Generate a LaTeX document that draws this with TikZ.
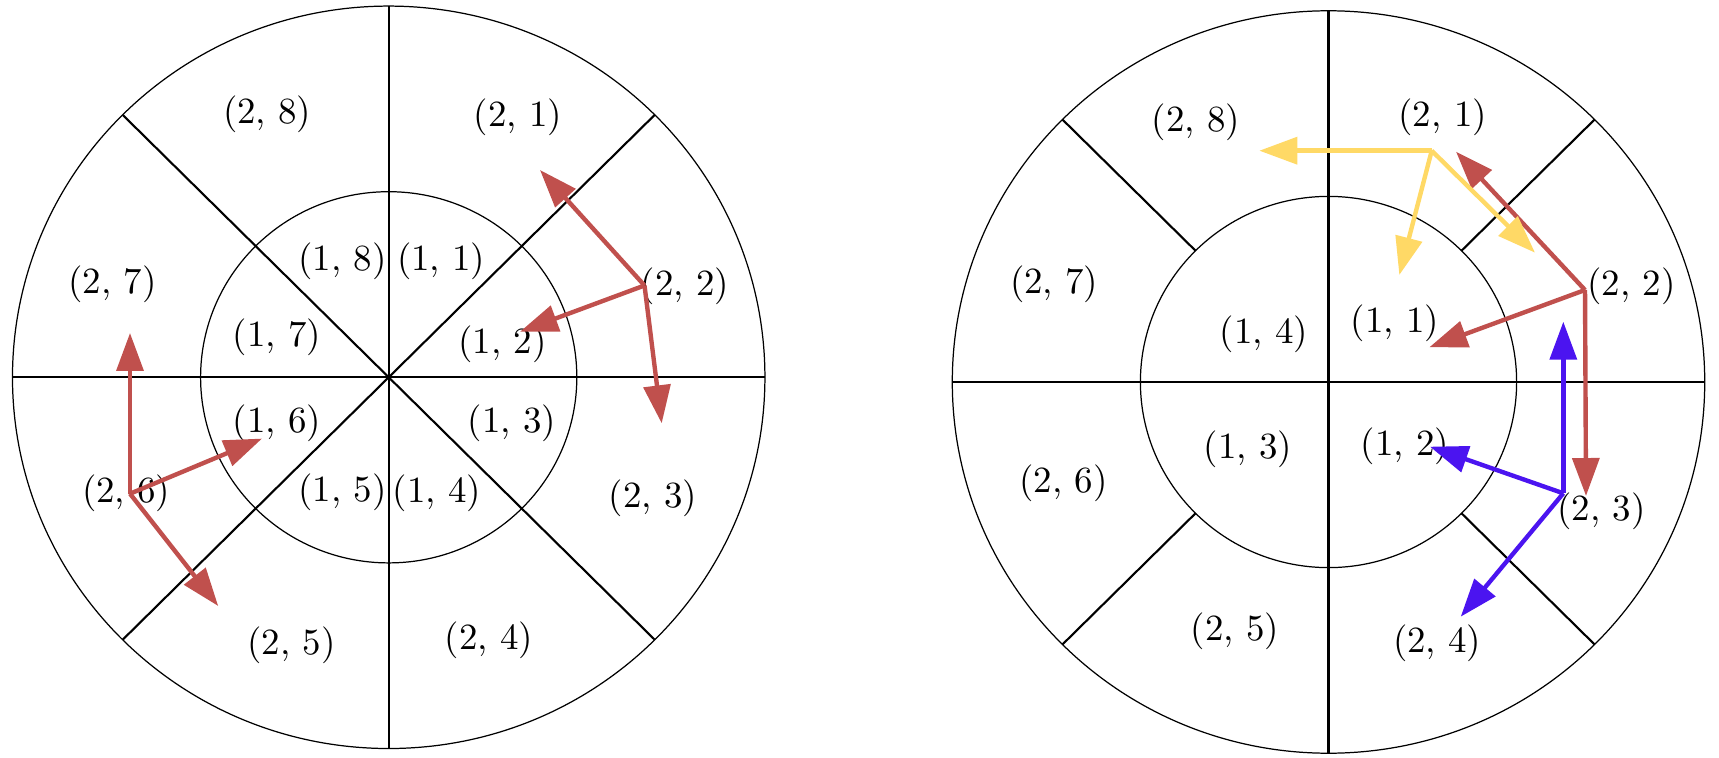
\documentclass[tikz,border=0pt]{standalone}
\usetikzlibrary{arrows.meta}
\definecolor{redA}{RGB}{192,80,77}
\definecolor{yelA}{RGB}{255,217,102}
\definecolor{bluA}{RGB}{75,20,240}
\begin{document}
\begin{tikzpicture}[x=0.01cm,y=-0.01cm,
 lbl/.style={inner sep=0pt, font=\fontsize{10.5}{12.5}\selectfont},
 ring/.style={line width=0.35pt},
 spoke/.style={line width=0.6pt},
 arr/.style={line width=1.25pt, -{Triangle[length=10.8pt,width=7.6pt]}},
]
\useasboundingbox (0,0) rectangle (1719,758);
% ---------------- left diagram ----------------
\coordinate (L) at (388.7,377.3);
\draw[ring] (L) ellipse [x radius=3.76cm, y radius=3.71cm];
\draw[ring] (L) ellipse [x radius=1.88cm, y radius=1.855cm];
\draw[spoke] (12.7,377.3) -- (764.7,377.3);
\draw[spoke] (388.7,6.3) -- (388.7,748.3);
\draw[spoke] (122.8,115) -- (654.6,639.6);
\draw[spoke] (122.8,639.6) -- (654.6,115);

\node[lbl] (l28) at (267.2,114.7) {(2, 8)};
\node[lbl] (l21) at (518,117.1) {(2, 1)};
\node[lbl] (l18) at (342.4,261.4) {(1, 8)};
\node[lbl] (l11) at (441.2,261.4) {(1, 1)};
\node[lbl] (l27) at (112.5,284.6) {(2, 7)};
\node[lbl] (l22) at (685,286.6) {(2, 2)};
\node[lbl] (l17) at (277.1,337.3) {(1, 7)};
\node[lbl] (l12) at (502.6,344.6) {(1, 2)};
\node[lbl] (l16) at (277.1,423.5) {(1, 6)};
\node[lbl] (l13) at (512,423.5) {(1, 3)};
\node[lbl] (l26) at (126.2,493.7) {(2, 6)};
\node[lbl] (l15) at (342.4,492.7) {(1, 5)};
\node[lbl] (l14) at (436.8,493.7) {(1, 4)};
\node[lbl] (l23) at (653,498.5) {(2, 3)};
\node[lbl] (l25) at (291.4,645.2) {(2, 5)};
\node[lbl] (l24) at (488.9,639.8) {(2, 4)};

\coordinate (a1) at (644.5,285.5);
\coordinate (a1u) at (540,170);
\coordinate (a1l) at (520,331.7);
\coordinate (a1d) at (661.7,423.3);
\draw[arr,redA] (a1) -- (a1u);
\draw[arr,redA] (a1) -- (a1l);
\draw[arr,redA] (a1) -- (a1d);

\coordinate (b1) at (130,493.7);
\coordinate (b1u) at (130,333);
\coordinate (b1r) at (262,438.6);
\coordinate (b1d) at (218.2,606);
\draw[arr,redA] (b1) -- (b1u);
\draw[arr,redA] (b1) -- (b1r);
\draw[arr,redA] (b1) -- (b1d);

% ---------------- right diagram ----------------
\coordinate (R) at (1328.5,382);
\draw[ring] (R) ellipse [x radius=3.76cm, y radius=3.71cm];
\draw[ring] (R) ellipse [x radius=1.88cm, y radius=1.855cm];
\draw[spoke] (952.5,382) -- (1704.5,382);
\draw[spoke] (1328.5,11) -- (1328.5,753);
\draw[spoke] (1461.4,250.8) -- (1594.4,119.7);
\draw[spoke] (1195.6,250.8) -- (1062.6,119.7);
\draw[spoke] (1461.4,513.2) -- (1594.4,644.3);
\draw[spoke] (1195.6,513.2) -- (1062.6,644.3);

\node[lbl] (r28) at (1195.8,122) {(2, 8)};
\node[lbl] (r21) at (1442.7,117.1) {(2, 1)};
\node[lbl] (r27) at (1054.2,284.6) {(2, 7)};
\node[lbl] (r22) at (1631.5,286.6) {(2, 2)};
\node[lbl] (r14) at (1263.8,334) {(1, 4)};
\node[lbl] (r11) at (1395,323.3) {(1, 1)};
\node[lbl] (r13) at (1248,449.2) {(1, 3)};
\node[lbl] (r12) at (1404.9,446.2) {(1, 2)};
\node[lbl] (r26) at (1063.6,483) {(2, 6)};
\node[lbl] (r23) at (1601.5,510.8) {(2, 3)};
\node[lbl] (r25) at (1234.8,631.6) {(2, 5)};
\node[lbl] (r24) at (1437.2,643.7) {(2, 4)};

\coordinate (c1) at (1585,290);
\coordinate (c1u) at (1456,151.7);
\coordinate (c1l) at (1429.3,347.3);
\coordinate (c1d) at (1586,496);
\draw[arr,redA] (c1) -- (c1u);
\draw[arr,redA] (c1) -- (c1l);
\draw[arr,redA] (c1) -- (c1d);

\coordinate (y1) at (1431.7,150.7);
\coordinate (y1l) at (1259.3,150.7);
\coordinate (y1d) at (1399.3,275);
\coordinate (y1r) at (1535,252.7);
\draw[arr,yelA] (y1) -- (y1l);
\draw[arr,yelA] (y1) -- (y1d);
\draw[arr,yelA] (y1) -- (y1r);

\coordinate (u1) at (1563.3,493.3);
\coordinate (u1u) at (1563.3,321.7);
\coordinate (u1l) at (1430,446.7);
\coordinate (u1d) at (1460.7,616.7);
\draw[arr,bluA] (u1) -- (u1u);
\draw[arr,bluA] (u1) -- (u1l);
\draw[arr,bluA] (u1) -- (u1d);
\end{tikzpicture}
\end{document}
